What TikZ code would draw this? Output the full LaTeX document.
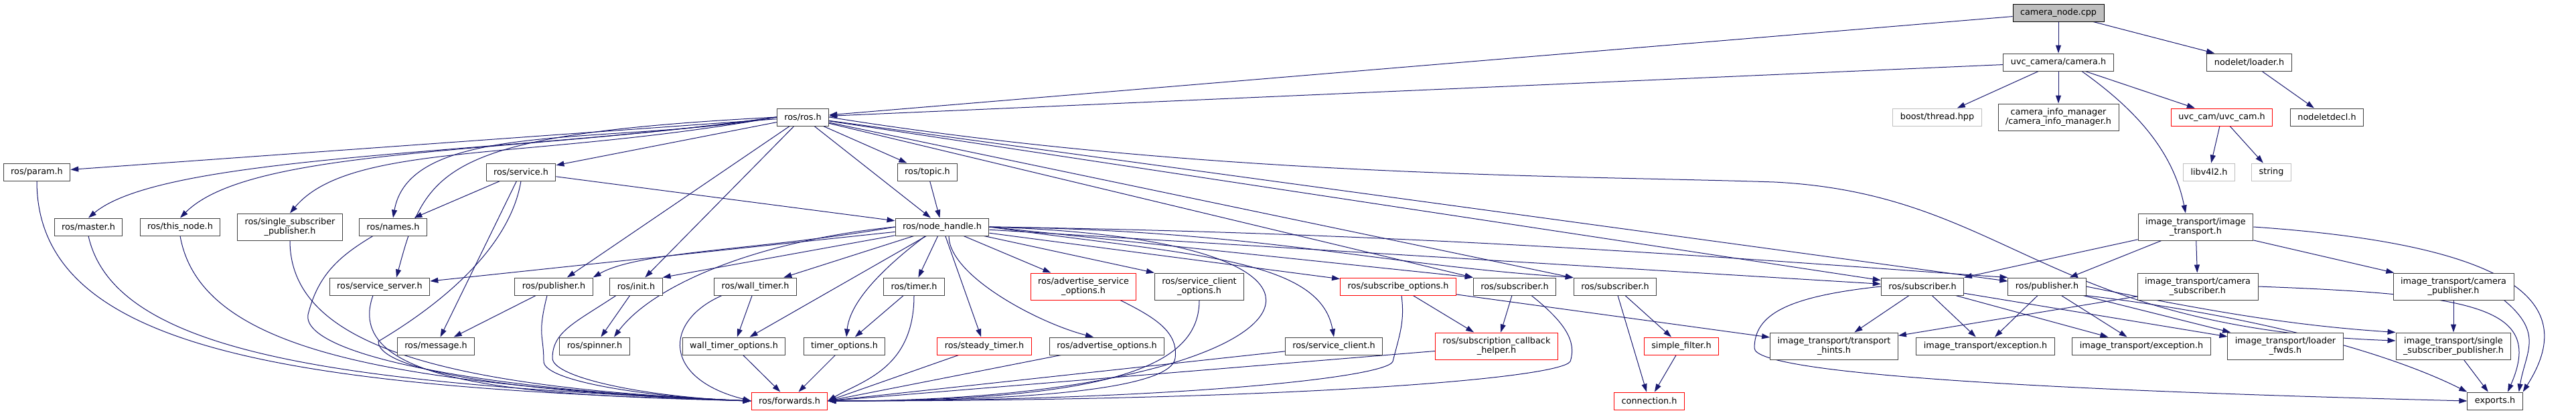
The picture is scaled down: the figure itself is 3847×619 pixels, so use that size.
\documentclass[tikz,border=0pt]{standalone}
\usepackage{fontspec}
\setmainfont{DejaVu Sans}
\usepackage{tikz}
\usetikzlibrary{arrows.meta, positioning, calc, backgrounds}
\definecolor{edgeblue}{RGB}{25,25,112}
\definecolor{boxgray}{RGB}{64,64,64}
\definecolor{extgray}{RGB}{191,191,191}
\definecolor{rootgray}{RGB}{191,191,191}
\definecolor{missred}{RGB}{255,0,0}

\begin{document}
\begin{tikzpicture}[x=1pt, y=1pt, >={Triangle[length=12pt,width=8pt]}]
  \tikzstyle{hdr} = [rectangle, draw=boxgray, fill=white, line width=1pt, inner xsep=11pt, inner ysep=0pt, minimum height=26pt, align=center, font=\fontsize{12.8}{14.3}\selectfont]
  \tikzstyle{hdrtwo} = [hdr, minimum height=40pt]
  \tikzstyle{hdrmiss} = [hdr, draw=missred]
  \tikzstyle{hdrmisstwo} = [hdrtwo, draw=missred]
  \tikzstyle{hdrext} = [hdr, draw=extgray]
  \tikzstyle{hdrroot} = [hdr, draw=black, fill=rootgray]
  \tikzstyle{dep} = [draw=edgeblue, line width=1pt]

  \useasboundingbox (0,0) rectangle (3847,-619);

  \node [hdrroot] (cam) at (3074,-19) {camera\_node.cpp};
  \node [hdr] (uvccam) at (3074,-93) {uvc\_camera/camera.h};
  \node [hdr] (loader) at (3359,-93) {nodelet/loader.h};

  \node [hdr] (ros) at (1199,-175) {ros/ros.h};
  \node [hdrext] (thread) at (2893,-175) {boost/thread.hpp};
  \node [hdrtwo] (cim) at (3074,-175) {camera\_info\_manager\\/camera\_info\_manager.h};
  \node [hdrmiss] (uvch) at (3318,-175) {uvc\_cam/uvc\_cam.h};
  \node [hdr] (decl) at (3475,-175) {nodeletdecl.h};

  \node [hdr] (param) at (55,-257) {ros/param.h};
  \node [hdr] (service) at (778,-257) {ros/service.h};
  \node [hdr] (topic) at (1385,-257) {ros/topic.h};
  \node [hdrext] (v4l) at (3299,-257) {libv4l2.h};
  \node [hdrext] (str) at (3392,-257) {string};

  \node [hdr] (master) at (132,-339) {ros/master.h};
  \node [hdr] (thisnode) at (269,-339) {ros/this\_node.h};
  \node [hdrtwo] (ssp) at (433,-339) {ros/single\_subscriber\\\_publisher.h};
  \node [hdr] (names) at (587,-339) {ros/names.h};
  \node [hdr] (nh) at (1407,-339) {ros/node\_handle.h};
  \node [hdrtwo] (itimg) at (3279,-339) {image\_transport/image\\\_transport.h};

  \node [hdr] (srvsrv) at (567,-428) {ros/service\_server.h};
  \node [hdr] (pub) at (827,-428) {ros/publisher.h};
  \node [hdr] (init) at (950,-428) {ros/init.h};
  \node [hdr] (wtimer) at (1128,-428) {ros/wall\_timer.h};
  \node [hdr] (timer) at (1365,-428) {ros/timer.h};
  \node [hdrmisstwo] (aso) at (1618,-428) {ros/advertise\_service\\\_options.h};
  \node [hdrtwo] (sco) at (1791,-428) {ros/service\_client\\\_options.h};
  \node [hdrmiss] (subopt) at (2088,-428) {ros/subscribe\_options.h};
  \node [hdr] (subA) at (2262,-428) {ros/subscriber.h};
  \node [hdr] (subB) at (2412,-428) {ros/subscriber.h};
  \node [hdr] (subC) at (2871,-428) {ros/subscriber.h};
  \node [hdr] (pubB) at (3057,-428) {ros/publisher.h};
  \node [hdrtwo] (itcs) at (3282,-428) {image\_transport/camera\\\_subscriber.h};
  \node [hdrtwo] (itcp) at (3664,-428) {image\_transport/camera\\\_publisher.h};

  \node [hdr] (msg) at (651,-517) {ros/message.h};
  \node [hdr] (spinner) at (888,-517) {ros/spinner.h};
  \node [hdr] (wto) at (1096,-517) {wall\_timer\_options.h};
  \node [hdr] (to) at (1261,-517) {timer\_options.h};
  \node [hdrmiss] (steady) at (1470,-517) {ros/steady\_timer.h};
  \node [hdr] (ao) at (1653,-517) {ros/advertise\_options.h};
  \node [hdr] (sc) at (1992,-517) {ros/service\_client.h};
  \node [hdrmisstwo] (sch) at (2235,-517) {ros/subscription\_callback\\\_helper.h};
  \node [hdrmiss] (sf) at (2511,-517) {simple\_filter.h};
  \node [hdrtwo] (th) at (2739,-517) {image\_transport/transport\\\_hints.h};
  \node [hdr] (exA) at (2965,-517) {image\_transport/exception.h};
  \node [hdr] (exB) at (3198,-517) {image\_transport/exception.h};
  \node [hdrtwo] (lf) at (3413,-517) {image\_transport/loader\\\_fwds.h};
  \node [hdrtwo] (itssp) at (3664,-517) {image\_transport/single\\\_subscriber\_publisher.h};

  \node [hdrmiss] (fwd) at (1179,-599) {ros/forwards.h};
  \node [hdrmiss] (conn) at (2463,-599) {connection.h};
  \node [hdr] (exports) at (3726,-599) {exports.h};

  \begin{scope}[on background layer]
    \draw[->, dep] (cam) -- (ros);
    \draw[->, dep] (cam) -- (uvccam);
    \draw[->, dep] (cam) -- (loader);
    \draw[->, dep] (uvccam) -- (ros);
    \draw[->, dep] (uvccam) -- (thread);
    \draw[->, dep] (uvccam) -- (cim);
    \draw[->, dep] (uvccam) -- (uvch);
    \draw[->, dep] ([xshift=35pt]uvccam.south) .. controls +(70,-50) and +(-20,100) .. ([xshift=-15pt]itimg.north);
    \draw[->, dep] (loader) -- (decl);
    \draw[->, dep] (uvch) -- (v4l);
    \draw[->, dep] (uvch) -- (str);

    \draw[->, dep] (ros) -- (param);
    \draw[->, dep] (ros.west) .. controls +(188:400) and +(40:150) .. (master.north);
    \draw[->, dep] (ros.west) .. controls +(188:400) and +(45:150) .. (thisnode.north);
    \draw[->, dep] (ros.west) .. controls +(190:380) and +(50:140) .. (ssp.north);
    \draw[->, dep] (ros.west) .. controls +(190:250) and +(80:150) .. (names.north);
    \draw[->, dep] (ros.west) .. controls +(183:500) and +(75:170) .. ([xshift=25pt]srvsrv.north);
    \draw[->, dep] (ros) -- (service);
    \draw[->, dep] (ros) -- (pub);
    \draw[->, dep] (ros) -- (init);
    \draw[->, dep] (ros) -- (topic);
    \draw[->, dep] (ros) -- (nh);
    \draw[->, dep] (ros) -- (subA.north west);
    \draw[->, dep] (ros) -- (subB);
    \draw[->, dep] (ros) -- (subC);
    \draw[->, dep] (ros) -- (pubB);
    \draw[->, dep] (ros.east) .. controls (1800,-265) and (2350,-262) .. (2650,-272) .. controls (3000,-290) and (3050,-490) .. ([yshift=8pt]itssp.west);

    \draw[->, dep] (service) -- (names);
    \draw[->, dep] (service) -- (msg);
    \draw[->, dep] (service) -- (nh);
    \draw[->, dep] (service.south) .. controls +(-20,-120) and +(50,30) .. (565,-510) .. controls +(0,-50) and +(-300,10) .. (fwd.west);
    \draw[->, dep] (topic) -- (nh);

    \draw[->, dep] (param.south) .. controls +(0,-250) and +(-700,20) .. (fwd.west);
    \draw[->, dep] (master.south) .. controls +(40,-180) and +(-600,25) .. (fwd.west);
    \draw[->, dep] (thisnode.south) .. controls +(30,-170) and +(-550,25) .. (fwd.west);
    \draw[->, dep] (ssp.south) .. controls +(0,-160) and +(-450,20) .. (fwd.west);
    \draw[->, dep] ([xshift=-30pt]names.south) .. controls +(-50,-30) and +(15,60) .. (460,-470) .. controls +(-10,-60) and +(-400,15) .. (fwd.west);
    \draw[->, dep] ([xshift=-10pt]srvsrv.south) .. controls +(-50,-140) and +(-300,8) .. (fwd.west);
    \draw[->, dep] (pub) -- (msg);
    \draw[->, dep] ([xshift=-10pt]pub.south) .. controls +(-15,-60) and +(0,40) .. (812,-540) .. controls +(0,-30) and +(-150,5) .. (fwd.west);
    \draw[->, dep] (init) -- (spinner);
    \draw[->, dep] ([xshift=-30pt]init.south) .. controls +(-60,-40) and +(0,40) .. (825,-535) .. controls +(0,-30) and +(-150,5) .. (fwd.west);
    \draw[->, dep] (wtimer) -- (wto);
    \draw[->, dep] ([xshift=-50pt]wtimer.south) .. controls +(-88,-39) and +(-132,33) .. (fwd.west);
    \draw[->, dep] (wto) -- (fwd);
    \draw[->, dep] (to) -- (fwd);
    \draw[->, dep] (timer) -- (to);
    \draw[->, dep] (timer.south) .. controls +(0,-110) and +(50,30) .. (fwd.east);

    \draw[->, dep] (nh) -- (srvsrv);
    \draw[->, dep] (nh.west) .. controls +(190:200) and +(30:80) .. (pub.north east);
    \draw[->, dep] (nh) -- (init.north east);
    \draw[->, dep] (nh) -- (wtimer);
    \draw[->, dep] (nh.west) .. controls +(-200,-20) and +(60,80) .. (spinner.25);
    \draw[->, dep] (nh) -- (wto);
    \draw[->, dep] ([xshift=-25pt]nh.south) .. controls +(-70,-53) and +(5,50) .. ([xshift=3pt]to.north);
    \draw[->, dep] (nh) -- (timer);
    \draw[->, dep] (nh) -- (steady);
    \draw[->, dep] ([xshift=10pt]nh.south) .. controls +(0,-60) and +(-80,20) .. ([xshift=-20pt]ao.north);
    \draw[->, dep] (nh) -- (aso);
    \draw[->, dep] (nh) -- (sco.north west);
    \draw[->, dep] (nh.east) .. controls +(-8:300) and +(100:120) .. (sc.north);
    \draw[->, dep] (nh) -- (subopt);
    \draw[->, dep] (nh.east) -- (subA.north west);
    \draw[->, dep] (nh.east) .. controls +(400,-5) and +(-300,20) .. (subB.north west);
    \draw[->, dep] (nh) -- (subC);
    \draw[->, dep] (nh.east) .. controls +(700,-10) and +(-300,20) .. (pubB.north west);
    \draw[->, dep] (nh.east) .. controls (2150,-360) and (1950,-600) .. (fwd.east);

    \draw[->, dep] (steady) -- (fwd.east);
    \draw[->, dep] (ao) -- (fwd.east);
    \draw[->, dep] ([xshift=55pt]aso.south) .. controls +(50,-25) and +(5,40) .. (1755,-535) .. controls +(-5,-40) and +(350,0) .. (fwd.east);
    \draw[->, dep] (sco.south) .. controls +(0,-90) and +(450,0) .. (fwd.east);
    \draw[->, dep] (sc) -- (fwd.east);
    \draw[->, dep] ([xshift=5pt]subopt.south) .. controls +(5,-40) and +(10,40) .. (2080,-540) .. controls +(-10,-25) and +(500,0) .. (fwd.east);
    \draw[->, dep] (subopt) -- (sch);
    \draw[->, dep] (subopt) -- (th);
    \draw[->, dep] (subA) -- (sch);
    \draw[->, dep] ([xshift=25pt]subA.south) .. controls +(50,-40) and +(10,30) .. (2345,-540) .. controls +(-15,-25) and +(700,0) .. (fwd.east);
    \draw[->, dep] (sch) -- (fwd.east);
    \draw[->, dep] (subB) -- (sf);
    \draw[->, dep] (subB) -- (conn);
    \draw[->, dep] (sf) -- (conn);

    \draw[->, dep] (itimg) -- (subC);
    \draw[->, dep] (itimg) -- (pubB);
    \draw[->, dep] (itimg) -- (itcs);
    \draw[->, dep] (itimg) -- (itcp);
    \draw[->, dep] (itimg.east) .. controls (3820,-370) and (3835,-480) .. (exports.north east);
    \draw[->, dep] (itcs) -- (th);
    \draw[->, dep] (itcs.east) .. controls (3700,-440) and (3800,-460) .. ([xshift=19pt]exports.north);
    \draw[->, dep] (itcp) -- (itssp);
    \draw[->, dep] ([xshift=-15pt]itcp.south east) .. controls +(60,-50) and +(10,60) .. ([xshift=-6pt]exports.north east);
    \draw[->, dep] (itssp) -- (exports);
    \draw[->, dep] (subC) -- (th);
    \draw[->, dep] (subC) -- (exA);
    \draw[->, dep] (subC) -- (exB);
    \draw[->, dep] (subC) -- (lf);
    \draw[->, dep] (subC.west) .. controls +(-140,-15) and +(0,50) .. (2620,-520) .. controls +(0,-40) and +(-600,15) .. (exports.west);
    \draw[->, dep] (pubB) -- (exA);
    \draw[->, dep] (pubB) -- (exB);
    \draw[->, dep] (pubB) -- (lf);
    \draw[->, dep] (pubB.east) .. controls +(200,-40) and +(-150,10) .. (itssp.north west);
    \draw[->, dep] (pubB.south east) .. controls +(250,-30) and +(-120,60) .. (exports.north west);
  \end{scope}
\end{tikzpicture}
\end{document}
